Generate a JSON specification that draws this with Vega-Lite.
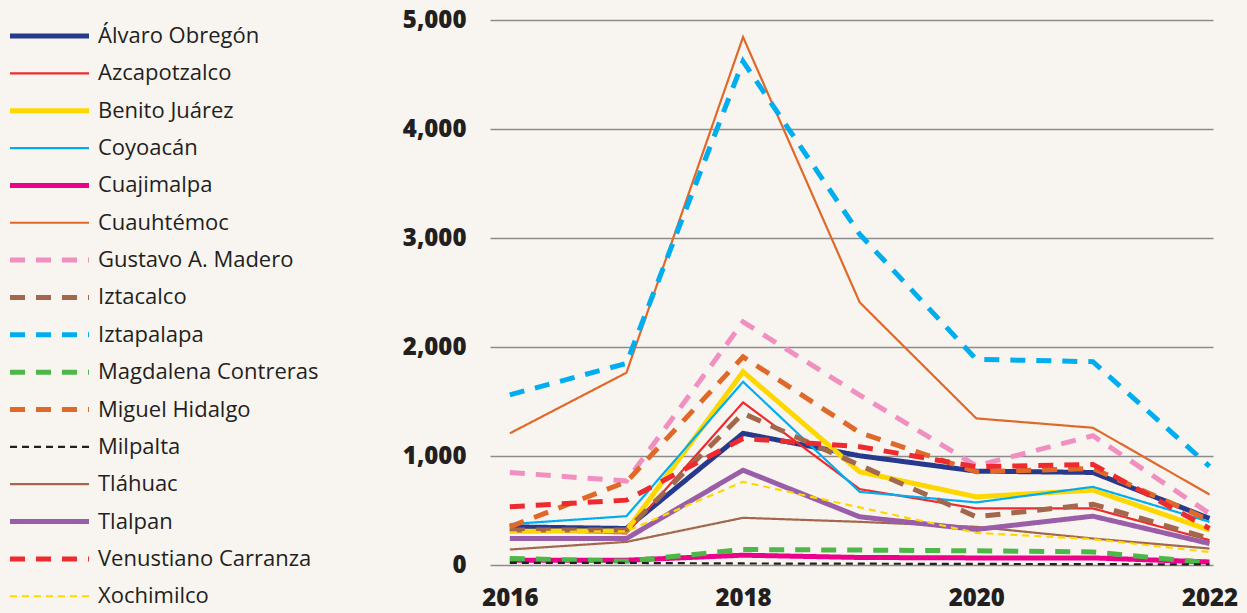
{
  "$schema": "https://vega.github.io/schema/vega-lite/v6.json",
  "autosize": {"type": "none"},
  "width": 723,
  "height": 545,
  "padding": {"left": 490, "top": 20, "right": 34, "bottom": 48},
  "background": "#f8f5f0",
  "config": {
    "view": {"stroke": null},
    "font": "Open Sans"
  },
  "data": {
    "values": [
      {"d": "Álvaro Obregón", "y": 2016, "v": 350}, {"d": "Álvaro Obregón", "y": 2017, "v": 335}, {"d": "Álvaro Obregón", "y": 2018, "v": 1208}, {"d": "Álvaro Obregón", "y": 2019, "v": 1002}, {"d": "Álvaro Obregón", "y": 2020, "v": 861}, {"d": "Álvaro Obregón", "y": 2021, "v": 849}, {"d": "Álvaro Obregón", "y": 2022, "v": 427},
      {"d": "Azcapotzalco", "y": 2016, "v": 320}, {"d": "Azcapotzalco", "y": 2017, "v": 290}, {"d": "Azcapotzalco", "y": 2018, "v": 1492}, {"d": "Azcapotzalco", "y": 2019, "v": 696}, {"d": "Azcapotzalco", "y": 2020, "v": 519}, {"d": "Azcapotzalco", "y": 2021, "v": 519}, {"d": "Azcapotzalco", "y": 2022, "v": 228},
      {"d": "Benito Juárez", "y": 2016, "v": 310}, {"d": "Benito Juárez", "y": 2017, "v": 313}, {"d": "Benito Juárez", "y": 2018, "v": 1773}, {"d": "Benito Juárez", "y": 2019, "v": 855}, {"d": "Benito Juárez", "y": 2020, "v": 625}, {"d": "Benito Juárez", "y": 2021, "v": 687}, {"d": "Benito Juárez", "y": 2022, "v": 320},
      {"d": "Coyoacán", "y": 2016, "v": 375}, {"d": "Coyoacán", "y": 2017, "v": 448}, {"d": "Coyoacán", "y": 2018, "v": 1681}, {"d": "Coyoacán", "y": 2019, "v": 671}, {"d": "Coyoacán", "y": 2020, "v": 574}, {"d": "Coyoacán", "y": 2021, "v": 717}, {"d": "Coyoacán", "y": 2022, "v": 396},
      {"d": "Cuajimalpa", "y": 2016, "v": 44}, {"d": "Cuajimalpa", "y": 2017, "v": 44}, {"d": "Cuajimalpa", "y": 2018, "v": 90}, {"d": "Cuajimalpa", "y": 2019, "v": 69}, {"d": "Cuajimalpa", "y": 2020, "v": 65}, {"d": "Cuajimalpa", "y": 2021, "v": 65}, {"d": "Cuajimalpa", "y": 2022, "v": 28},
      {"d": "Cuauhtémoc", "y": 2016, "v": 1208}, {"d": "Cuauhtémoc", "y": 2017, "v": 1764}, {"d": "Cuauhtémoc", "y": 2018, "v": 4844}, {"d": "Cuauhtémoc", "y": 2019, "v": 2410}, {"d": "Cuauhtémoc", "y": 2020, "v": 1345}, {"d": "Cuauhtémoc", "y": 2021, "v": 1259}, {"d": "Cuauhtémoc", "y": 2022, "v": 647},
      {"d": "Gustavo A. Madero", "y": 2016, "v": 849}, {"d": "Gustavo A. Madero", "y": 2017, "v": 770}, {"d": "Gustavo A. Madero", "y": 2018, "v": 2230}, {"d": "Gustavo A. Madero", "y": 2019, "v": 1559}, {"d": "Gustavo A. Madero", "y": 2020, "v": 910}, {"d": "Gustavo A. Madero", "y": 2021, "v": 1186}, {"d": "Gustavo A. Madero", "y": 2022, "v": 473},
      {"d": "Iztacalco", "y": 2016, "v": 320}, {"d": "Iztacalco", "y": 2017, "v": 320}, {"d": "Iztacalco", "y": 2018, "v": 1391}, {"d": "Iztacalco", "y": 2019, "v": 916}, {"d": "Iztacalco", "y": 2020, "v": 442}, {"d": "Iztacalco", "y": 2021, "v": 558}, {"d": "Iztacalco", "y": 2022, "v": 243},
      {"d": "Iztapalapa", "y": 2016, "v": 1561}, {"d": "Iztapalapa", "y": 2017, "v": 1850}, {"d": "Iztapalapa", "y": 2018, "v": 4620}, {"d": "Iztapalapa", "y": 2019, "v": 3035}, {"d": "Iztapalapa", "y": 2020, "v": 1887}, {"d": "Iztapalapa", "y": 2021, "v": 1865}, {"d": "Iztapalapa", "y": 2022, "v": 905},
      {"d": "Magdalena Contreras", "y": 2016, "v": 60}, {"d": "Magdalena Contreras", "y": 2017, "v": 35}, {"d": "Magdalena Contreras", "y": 2018, "v": 142}, {"d": "Magdalena Contreras", "y": 2019, "v": 137}, {"d": "Magdalena Contreras", "y": 2020, "v": 130}, {"d": "Magdalena Contreras", "y": 2021, "v": 120}, {"d": "Magdalena Contreras", "y": 2022, "v": 19},
      {"d": "Miguel Hidalgo", "y": 2016, "v": 350}, {"d": "Miguel Hidalgo", "y": 2017, "v": 763}, {"d": "Miguel Hidalgo", "y": 2018, "v": 1910}, {"d": "Miguel Hidalgo", "y": 2019, "v": 1215}, {"d": "Miguel Hidalgo", "y": 2020, "v": 855}, {"d": "Miguel Hidalgo", "y": 2021, "v": 886}, {"d": "Miguel Hidalgo", "y": 2022, "v": 411},
      {"d": "Milpalta", "y": 2016, "v": 19}, {"d": "Milpalta", "y": 2017, "v": 19}, {"d": "Milpalta", "y": 2018, "v": 14}, {"d": "Milpalta", "y": 2019, "v": 12}, {"d": "Milpalta", "y": 2020, "v": 10}, {"d": "Milpalta", "y": 2021, "v": 8}, {"d": "Milpalta", "y": 2022, "v": 5},
      {"d": "Tláhuac", "y": 2016, "v": 142}, {"d": "Tláhuac", "y": 2017, "v": 212}, {"d": "Tláhuac", "y": 2018, "v": 433}, {"d": "Tláhuac", "y": 2019, "v": 396}, {"d": "Tláhuac", "y": 2020, "v": 350}, {"d": "Tláhuac", "y": 2021, "v": 243}, {"d": "Tláhuac", "y": 2022, "v": 151},
      {"d": "Tlalpan", "y": 2016, "v": 243}, {"d": "Tlalpan", "y": 2017, "v": 243}, {"d": "Tlalpan", "y": 2018, "v": 870}, {"d": "Tlalpan", "y": 2019, "v": 442}, {"d": "Tlalpan", "y": 2020, "v": 326}, {"d": "Tlalpan", "y": 2021, "v": 448}, {"d": "Tlalpan", "y": 2022, "v": 197},
      {"d": "Venustiano Carranza", "y": 2016, "v": 534}, {"d": "Venustiano Carranza", "y": 2017, "v": 595}, {"d": "Venustiano Carranza", "y": 2018, "v": 1161}, {"d": "Venustiano Carranza", "y": 2019, "v": 1085}, {"d": "Venustiano Carranza", "y": 2020, "v": 901}, {"d": "Venustiano Carranza", "y": 2021, "v": 923}, {"d": "Venustiano Carranza", "y": 2022, "v": 335},
      {"d": "Xochimilco", "y": 2016, "v": 300}, {"d": "Xochimilco", "y": 2017, "v": 310}, {"d": "Xochimilco", "y": 2018, "v": 763}, {"d": "Xochimilco", "y": 2019, "v": 528}, {"d": "Xochimilco", "y": 2020, "v": 295}, {"d": "Xochimilco", "y": 2021, "v": 237}, {"d": "Xochimilco", "y": 2022, "v": 120}
    ]
  },
  "mark": {"type": "line", "strokeJoin": "miter", "strokeCap": "butt"},
  "encoding": {
    "x": {
      "field": "y", "type": "quantitative",
      "scale": {"domain": [2015.83, 2022.03], "nice": false, "zero": false},
      "axis": {
        "title": null, "values": [2016, 2018, 2020, 2022], "format": "d",
        "grid": false, "domain": false, "ticks": false,
        "labelFontSize": 24, "labelFontWeight": 800, "labelColor": "#231f20",
        "labelPadding": 21, "labelBound": false, "labelFlush": false, "labelOverlap": false,
        "labelFont": "Open Sans"
      }
    },
    "y": {
      "field": "v", "type": "quantitative",
      "scale": {"domain": [0, 5000], "nice": false},
      "axis": {
        "title": null, "values": [0, 1000, 2000, 3000, 4000, 5000], "format": ",d",
        "grid": true, "gridColor": "#8c8c8c", "gridWidth": 1.3,
        "domain": false, "ticks": false, "tickSize": 0,
        "labelFontSize": 24, "labelFontWeight": 800, "labelColor": "#231f20",
        "labelPadding": 24, "labelFont": "Open Sans"
      }
    },
    "color": {
      "field": "d", "type": "nominal",
      "scale": {
        "domain": ["Álvaro Obregón", "Azcapotzalco", "Benito Juárez", "Coyoacán", "Cuajimalpa", "Cuauhtémoc", "Gustavo A. Madero", "Iztacalco", "Iztapalapa", "Magdalena Contreras", "Miguel Hidalgo", "Milpalta", "Tláhuac", "Tlalpan", "Venustiano Carranza", "Xochimilco"],
        "range": ["#26398c", "#ee2a2e", "#ffd700", "#00aeef", "#ec008c", "#e0692a", "#f08fc0", "#a2674c", "#00aeef", "#4cb848", "#e0692a", "#231f20", "#a2674c", "#9a5ea8", "#ee2a2e", "#ffd700"]
      },
      "legend": {
        "title": null, "orient": "none", "legendX": -482.5, "legendY": 5,
        "symbolType": "stroke", "symbolSize": 6241, "clipHeight": 22, "rowPadding": 15.35,
        "labelFontSize": 22, "labelColor": "#231f20", "labelFont": "Open Sans", "labelOffset": 6.5,
        "labelLimit": 400, "padding": 0, "symbolOpacity": 1
      }
    },
    "strokeDash": {
      "field": "d", "type": "nominal",
      "scale": {
        "domain": ["Álvaro Obregón", "Azcapotzalco", "Benito Juárez", "Coyoacán", "Cuajimalpa", "Cuauhtémoc", "Gustavo A. Madero", "Iztacalco", "Iztapalapa", "Magdalena Contreras", "Miguel Hidalgo", "Milpalta", "Tláhuac", "Tlalpan", "Venustiano Carranza", "Xochimilco"],
        "range": [[1, 0], [1, 0], [1, 0], [1, 0], [1, 0], [1, 0], [15, 11], [15, 11], [15, 11], [15, 11], [15, 11], [7, 5], [1, 0], [1, 0], [15, 11], [7, 5]]
      },
      "legend": {
        "title": null, "orient": "none", "legendX": -482.5, "legendY": 5,
        "symbolType": "stroke", "symbolSize": 6241, "clipHeight": 22, "rowPadding": 15.35,
        "labelFontSize": 22, "labelColor": "#231f20", "labelFont": "Open Sans", "labelOffset": 6.5,
        "labelLimit": 400, "padding": 0, "symbolOpacity": 1
      }
    },
    "strokeWidth": {
      "field": "d", "type": "nominal",
      "scale": {
        "type": "ordinal",
        "domain": ["Álvaro Obregón", "Azcapotzalco", "Benito Juárez", "Coyoacán", "Cuajimalpa", "Cuauhtémoc", "Gustavo A. Madero", "Iztacalco", "Iztapalapa", "Magdalena Contreras", "Miguel Hidalgo", "Milpalta", "Tláhuac", "Tlalpan", "Venustiano Carranza", "Xochimilco"],
        "range": [5, 2.2, 5, 2.2, 5, 2.2, 5, 5, 5, 5, 5, 2.2, 2.2, 5, 5, 2.2]
      },
      "legend": {
        "title": null, "orient": "none", "legendX": -482.5, "legendY": 5,
        "symbolType": "stroke", "symbolSize": 6241, "clipHeight": 22, "rowPadding": 15.35,
        "labelFontSize": 22, "labelColor": "#231f20", "labelFont": "Open Sans", "labelOffset": 6.5,
        "labelLimit": 400, "padding": 0, "symbolOpacity": 1
      }
    }
  }
}
